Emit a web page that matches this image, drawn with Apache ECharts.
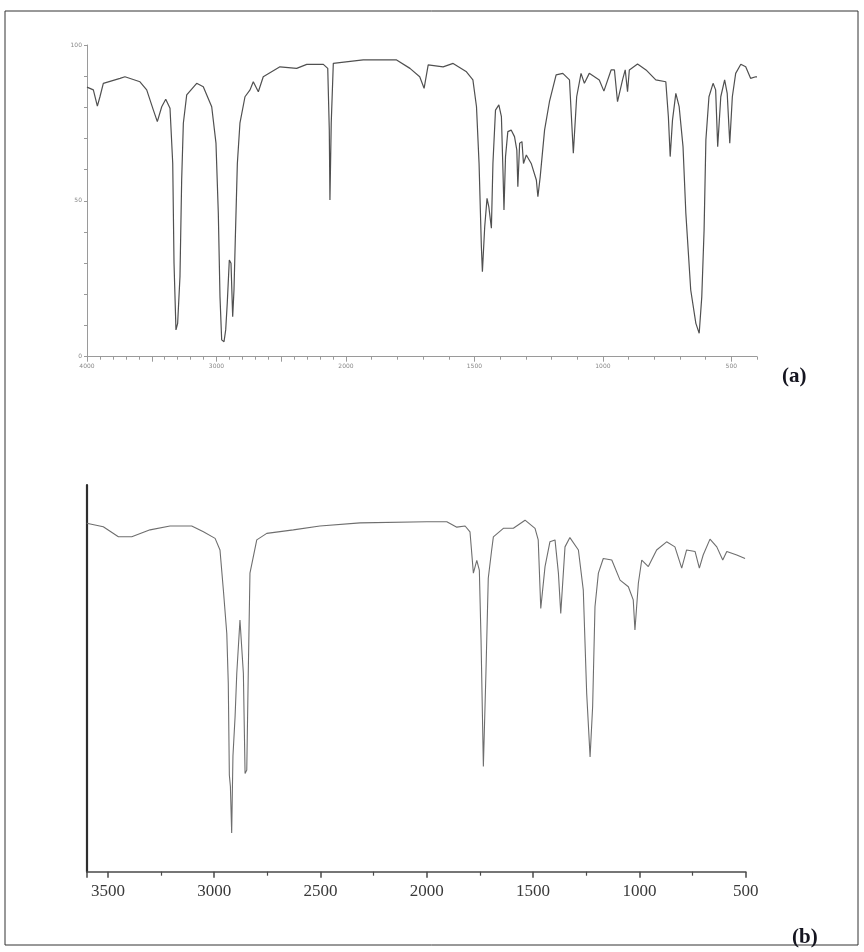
<!DOCTYPE html>
<html>
<head>
<meta charset="utf-8">
<script src="https://cdn.jsdelivr.net/npm/echarts@6/dist/echarts.min.js"></script>
<style>
html,body{margin:0;padding:0;background:#fff;}
#chart{width:864px;height:952px;}
</style>
</head>
<body>
<div id="chart"></div>
<script>
// ---- Spectrum (a) ----
const aWavenumber = [4000,3990,3951,3920,3900,3874,3745,3707,3591,3539,3488,3457,3423,3392,3359,3338,3328,3313,3300,3282,3269,3256,3230,3153,3102,3037,3004,2986,2973,2960,2942,2929,2917,2901,2888,2875,2865,2855,2839,2819,2780,2741,2716,2677,2639,2510,2381,2303,2175,2141,2129,2124,2114,2098,2000,
  1933,1803,1751,1713,1696,1680,1622,1583,1531,1506,1492,1482,1473,1469,1460,1451,1444,1434,1428,1418,1405,1395,1389,1385,1379,1370,1357,1344,1335,1331,1324,1315,1309,1298,1279,1259,1253,1244,1227,1208,1182,1156,1130,1115,1102,1085,1072,1053,1014,996,968,955,943,923,913,904,897,865,832,794,755,745,738,729,716,703,688,677,658,638,625,615,606,599,587,571,561,553,541,526,516,506,496,483,463,444,425,405,400];
const aTransmittance = [86.5,86.1,85.6,80.4,83.4,87.7,89.3,89.8,88.2,85.6,79.2,75.4,80.2,82.6,79.7,62.0,30.0,8.6,10.7,25.7,56.7,74.9,84.0,87.7,86.6,80.2,68.5,46.0,19.2,5.4,4.8,8.6,17.1,31.0,30.0,12.8,21.4,37.4,62.0,74.9,83.4,85.6,88.2,85.0,89.8,93.0,92.5,93.8,93.8,92.5,72.7,50.3,75.0,94.1,94.6,
  95.2,95.2,92.5,89.8,86.1,93.6,93.0,94.1,91.4,88.8,80.2,62.0,35.3,27.3,41.7,50.8,48.1,41.2,62.0,79.1,80.8,77.0,59.9,47.1,64.2,72.2,72.7,70.6,66.3,54.5,68.5,69.0,62.0,64.7,62.0,56.7,51.3,57.7,72.7,81.8,90.4,90.9,88.8,65.3,83.4,90.9,87.7,90.9,88.8,85.2,92.0,92.0,81.8,89.0,92.0,85.0,92.0,93.9,92.0,88.8,88.2,77.0,64.2,75.9,84.5,80.2,67.4,46.0,21.4,10.7,7.5,19.2,40.6,69.5,83.4,87.7,85.6,67.4,83.4,88.8,84.5,68.5,83.4,90.9,93.8,93.0,89.3,89.8,89.8];
const aLabelsHigh = [4000, 3000];
const aLabelsLow = [2000, 1500, 1000, 500];
const aMajorHigh = [4000, 3500, 3000, 2500];
const aMajorLow = [2000, 1500, 1000, 500];
const aYLabels = [0, 50, 100];

// ---- Spectrum (b) ----
const bWavenumber = [3600,3522,3451,3388,3302,3208,3106,3051,2996,2973,2957,2941,2934,2929,2924,2918,2912,2902,2894,2879,2871,2863,2855,2847,2840,2832,2800,2753,2628,2503,2314,2000,1906,1859,1820,1797,1781,1765,1753,1745,1734,1722,1711,1695,1687,1640,1593,1538,1491,1476,1464,1444,1421,1397,1381,1370,1350,1327,1287,1264,1248,1232,1220,1209,1193,1170,1130,1091,1052,1029,1021,1005,989,958,919,872,833,801,778,738,718,700,668,636,608,589,542,503];
const bTransmittance = [90.1,89.2,86.6,86.6,88.4,89.4,89.4,87.9,86.2,83.2,72.8,61.6,48.7,25.0,22.0,10.0,30.0,40.1,51.3,65.1,65.5,51.3,25.4,26.3,51.3,77.2,85.8,87.5,88.4,89.4,90.2,90.5,90.5,89.1,89.4,87.9,77.2,80.5,78.0,60.0,27.2,51.3,75.9,83.2,86.6,88.8,88.8,90.9,88.8,85.8,68.1,78.9,85.3,85.8,77.2,66.8,84.0,86.4,83.2,72.8,46.1,29.7,42.7,68.5,77.2,81.0,80.6,75.4,73.7,70.3,62.5,74.6,80.6,78.9,83.2,85.3,84.0,78.5,83.2,82.8,78.5,81.9,86.0,84.0,80.6,82.8,81.9,81.0];
const bLabels = [3500, 3000, 2500, 2000, 1500, 1000, 500];

const aPairs = aWavenumber.map((w, i) => [w, aTransmittance[i]]);
const aHigh = aPairs.filter(p => p[0] >= 2000);
const aLow = aPairs.filter(p => p[0] <= 2000);
const bPairs = bWavenumber.map((w, i) => [w, bTransmittance[i]]);

const smallLbl = {fontSize: 6, color: '#888', fontFamily: 'DejaVu Sans'};
const aAxisColor = '#9a9a9a';

const chart = echarts.init(document.getElementById('chart'), null, {renderer: 'canvas'});
chart.setOption({
  animation: false,
  backgroundColor: '#ffffff',
  grid: [
    {left: 87, top: 45, width: 259, height: 311.7},
    {left: 346, top: 45, width: 411, height: 311.7},
    {left: 86.7, top: 485, width: 659, height: 386.7}
  ],
  xAxis: [
    {type: 'value', gridIndex: 0, position: 'bottom', min: 2000, max: 4000, interval: 100, inverse: true,
     axisLine: {onZero: false, lineStyle: {color: aAxisColor, width: 1}},
     axisTick: {length: 3, lineStyle: {color: aAxisColor}},
     axisLabel: Object.assign({margin: 7, formatter: v => aLabelsHigh.includes(v) ? String(v) : ''}, smallLbl),
     splitLine: {show: false}},
    {type: 'value', gridIndex: 1, position: 'bottom', min: 400, max: 2000, interval: 100, inverse: true,
     axisLine: {onZero: false, lineStyle: {color: aAxisColor, width: 1}},
     axisTick: {length: 3, lineStyle: {color: aAxisColor}},
     axisLabel: Object.assign({margin: 7, formatter: v => aLabelsLow.includes(v) ? String(v) : ''}, smallLbl),
     splitLine: {show: false}},
    {type: 'value', gridIndex: 0, position: 'bottom', min: 2000, max: 4000, inverse: true,
     axisLine: {show: false, onZero: false},
     axisTick: {show: true, length: 5, customValues: aMajorHigh, lineStyle: {color: aAxisColor}},
     axisLabel: {show: false}, splitLine: {show: false}},
    {type: 'value', gridIndex: 1, position: 'bottom', min: 400, max: 2000, inverse: true,
     axisLine: {show: false, onZero: false},
     axisTick: {show: true, length: 5, customValues: aMajorLow, lineStyle: {color: aAxisColor}},
     axisLabel: {show: false}, splitLine: {show: false}},
    {type: 'value', gridIndex: 2, position: 'bottom', min: 500, max: 3600, interval: 500, inverse: true,
     axisLine: {onZero: false, lineStyle: {color: '#4a4a4a', width: 1.6}},
     axisTick: {length: 6, lineStyle: {color: '#4a4a4a', width: 1.5}},
     minorTick: {show: true, splitNumber: 2, length: 4, lineStyle: {color: '#4a4a4a', width: 1.2}},
     axisLabel: {margin: 11, fontFamily: 'Liberation Serif', fontSize: 17, color: '#3a3a3a',
       formatter: v => bLabels.includes(v) ? String(v) : ''},
     splitLine: {show: false}, minorSplitLine: {show: false}}
  ],
  yAxis: [
    {type: 'value', gridIndex: 0, min: 0, max: 100, interval: 10,
     axisLine: {show: true, onZero: false, lineStyle: {color: aAxisColor, width: 1}},
     axisTick: {show: true, length: 3, lineStyle: {color: aAxisColor}},
     axisLabel: Object.assign({margin: 5, formatter: v => aYLabels.includes(v) ? String(v) : ''}, smallLbl),
     splitLine: {show: false}},
    {type: 'value', gridIndex: 1, min: 0, max: 100, show: false},
    {type: 'value', gridIndex: 2, min: 0, max: 100,
     axisLine: {show: true, onZero: false, lineStyle: {color: '#2e2e2e', width: 2.2}},
     axisTick: {show: false}, axisLabel: {show: false}, splitLine: {show: false}}
  ],
  series: [
    {type: 'line', xAxisIndex: 0, yAxisIndex: 0, data: aHigh, showSymbol: false, smooth: false,
     lineStyle: {color: '#505050', width: 1.2}},
    {type: 'line', xAxisIndex: 1, yAxisIndex: 1, data: aLow, showSymbol: false, smooth: false,
     lineStyle: {color: '#505050', width: 1.2}},
    {type: 'line', xAxisIndex: 4, yAxisIndex: 2, data: bPairs, showSymbol: false, smooth: false,
     lineStyle: {color: '#6e6e6e', width: 1.1}}
  ],
  graphic: [
    {type: 'rect', shape: {x: 5, y: 11, width: 853, height: 934}, silent: true,
     style: {fill: 'none', stroke: '#333', lineWidth: 1}},
    {type: 'text', x: 782, y: 377, silent: true,
     style: {text: '(a)', font: 'bold 21px "Liberation Serif"', fill: '#151520', textVerticalAlign: 'middle'}},
    {type: 'text', x: 792, y: 938, silent: true,
     style: {text: '(b)', font: 'bold 21px "Liberation Serif"', fill: '#151520', textVerticalAlign: 'middle'}}
  ]
});
</script>
</body>
</html>
